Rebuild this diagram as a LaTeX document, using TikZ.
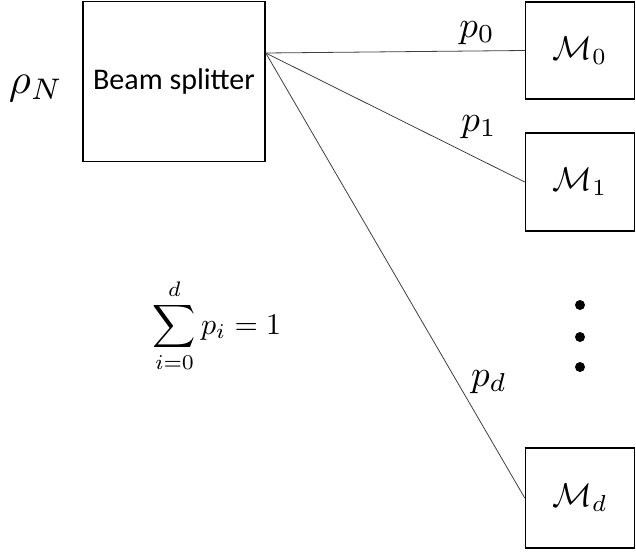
\documentclass[tikz,border=0pt]{standalone}
\usepackage{fontspec}
\setmainfont{Carlito}
\begin{document}
\begin{tikzpicture}[x=1pt,y=-1pt,
  box/.style={draw=black,line width=1.5pt,minimum width=109pt,inner sep=0pt},
  ray/.style={draw=black!75,line width=0.8pt},
  lab/.style={inner sep=0pt,scale=3.7},
  mlab/.style={inner sep=0pt,scale=3.3}]
\useasboundingbox (0,0) rectangle (636,554);
\node[box,minimum width=182pt,minimum height=160pt,font=\fontsize{30}{34}\selectfont] (bs) at (174,81.5) {Beam splitter};
\node[box,minimum height=97pt] (m0) at (580,50.5) {};
\node[box,minimum height=98pt] (m1) at (580,182) {};
\node[box,minimum height=100pt] (md) at (580,498) {};
\node[mlab] (t0) at (m0.center) {$\mathcal{M}_{0}$};
\node[mlab] (t1) at (m1.center) {$\mathcal{M}_{1}$};
\node[mlab] (td) at (md.center) {$\mathcal{M}_{d}$};
\coordinate (s) at (bs.east |- 0,53);
\draw[ray] (s) -- (m0.west);
\draw[ray] (s) -- (m1.west);
\draw[ray] (s) -- (md.west);
\node[lab,scale=1.15] (r) at (36,88) {$\rho_N$};
\node[lab] (p0) at (477,33) {$p_0$};
\node[lab] (p1) at (479,127) {$p_1$};
\node[lab] (pd) at (489,382) {$p_d$};
\node[inner sep=0pt,scale=3.0] (sum) at (217,326) {$\displaystyle\sum_{i=0}^{d} p_i = 1$};
\foreach \y/\n in {305/a,337/b,367/c}
  \fill (580,\y) circle (5pt) coordinate (dot\n);
\end{tikzpicture}
\end{document}
